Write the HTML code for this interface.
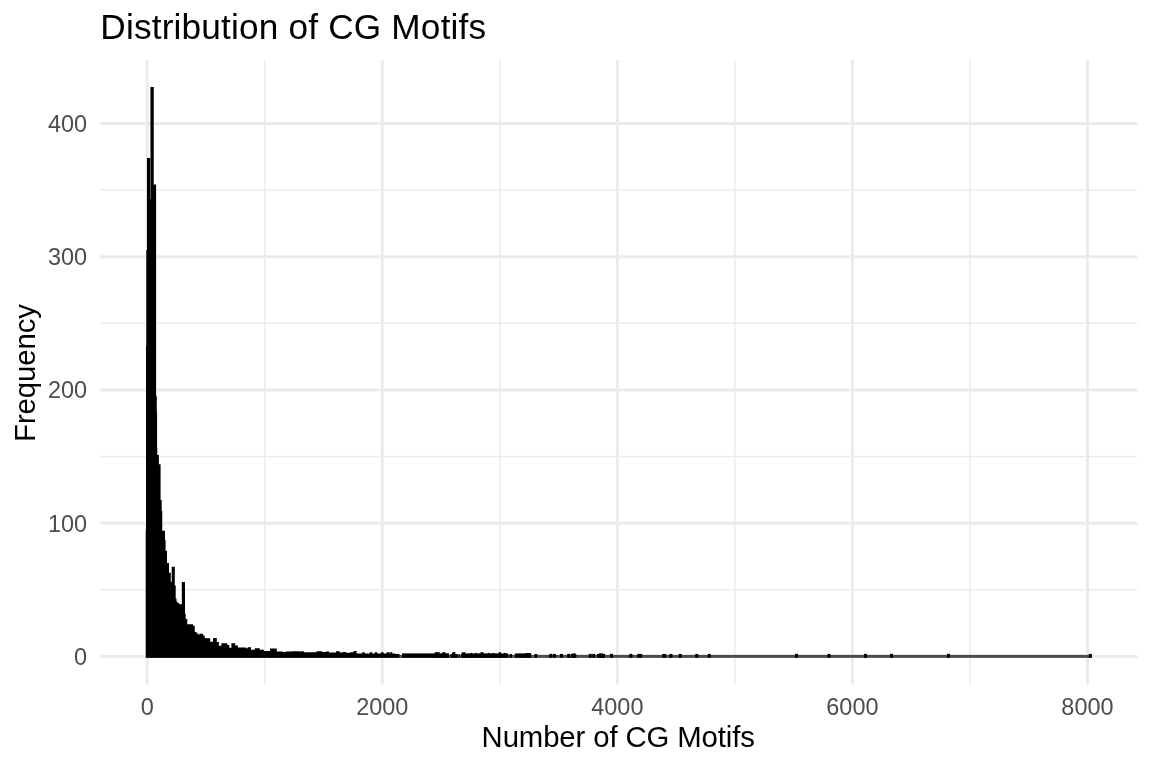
<!DOCTYPE html>
<html lang="en"><head><meta charset="utf-8"><title>Distribution of CG Motifs</title>
<style>html,body{margin:0;padding:0;background:#fff;}body{width:1152px;height:768px;overflow:hidden;font-family:"Liberation Sans",sans-serif;}svg{display:block;}</style>
</head><body>
<svg width="1152" height="768" viewBox="0 0 1152 768">
<rect width="1152" height="768" fill="#ffffff"/>
<g stroke="#ebebeb" fill="none"><line x1="100.3" x2="1137.3" y1="589.83" y2="589.83" stroke-width="1.42"/><line x1="100.3" x2="1137.3" y1="456.58" y2="456.58" stroke-width="1.42"/><line x1="100.3" x2="1137.3" y1="323.33" y2="323.33" stroke-width="1.42"/><line x1="100.3" x2="1137.3" y1="190.08" y2="190.08" stroke-width="1.42"/><line y1="60.0" y2="684.8" x1="264.79" x2="264.79" stroke-width="1.42"/><line y1="60.0" y2="684.8" x1="499.84" x2="499.84" stroke-width="1.42"/><line y1="60.0" y2="684.8" x1="734.88" x2="734.88" stroke-width="1.42"/><line y1="60.0" y2="684.8" x1="969.93" x2="969.93" stroke-width="1.42"/><line x1="100.3" x2="1137.3" y1="656.45" y2="656.45" stroke-width="2.85"/><line x1="100.3" x2="1137.3" y1="523.20" y2="523.20" stroke-width="2.85"/><line x1="100.3" x2="1137.3" y1="389.95" y2="389.95" stroke-width="2.85"/><line x1="100.3" x2="1137.3" y1="256.70" y2="256.70" stroke-width="2.85"/><line x1="100.3" x2="1137.3" y1="123.45" y2="123.45" stroke-width="2.85"/><line y1="60.0" y2="684.8" x1="147.27" x2="147.27" stroke-width="2.85"/><line y1="60.0" y2="684.8" x1="382.32" x2="382.32" stroke-width="2.85"/><line y1="60.0" y2="684.8" x1="617.36" x2="617.36" stroke-width="2.85"/><line y1="60.0" y2="684.8" x1="852.41" x2="852.41" stroke-width="2.85"/><line y1="60.0" y2="684.8" x1="1087.45" x2="1087.45" stroke-width="2.85"/></g>
<rect x="146" y="654.85" width="944.3" height="3.0" fill="#4b4b4b"/>
<path d="M145.7,657.8V530H146.0V346H146.3V250H146.95V157.9V157.9H150.1V199H150.45V87.0H153.75V184.5H156.1V395.8H156.8V412.5H157.1V448H157.3V455H158.9V464.2H160.6V500H161.7V511H162.25V530.8H165V540H165.6V550.8H167V563H169V572.7H170.8V581.8H171.7V566.8H174.8V585.6H175.7V598.5H176.5V601.5H177.5V603.0H179.3V604.3H181.8V582H185V613.7H185.7V619H187.25V624.2H193.1V625.8H194.75V632H196.6V633.6H198.5V635H199.3V633.75H203.1V635.5H204.7V638H206.4V638.2H210.2V641.7H213.1V637.9H216.8V642H218.9V645.7H221.4V643.2H227.25V645H229.3V647.7H231.4V643.2H235.2V645.5H238V647.4H246V648.3H247.7V647.3H251V649.8H254.75V648.3H259.75V649.8H263.9V651.1H270V648.4H276.8V651.6H283V651.9H286V651.5H291.5V651.25H299V651.6H301.5V651.25H303.4V651.6H304V652.2H316.5V651.25H322V652H326V651.4H329V652.6H336V651.25H339.75V652.6H343V652.0H346V652.7H350V652.2H353.5V651.1H356.6V653.4H362.2V652.2H364.8V653.4H369.7V652.2H372.3V653.4H374.7V652.2H377.3V653.4H380.95V652.2H383.55V653.4H386.59999999999997V652.2H389.2V653.4H389.7V652.2H392.3V653.4H395.4V654.1H399.4V657.8Z" fill="#000"/>
<g fill="#000"><rect x="402.00" y="653.4" width="47.00" height="4.40"/><rect x="434.75" y="652.2" width="5.00" height="5.60"/><rect x="442.25" y="652.2" width="3.15" height="5.60"/><rect x="445.40" y="653.7" width="3.60" height="4.10"/><rect x="450.40" y="654.0" width="7.20" height="3.80"/><rect x="452.20" y="652.2" width="3.20" height="5.60"/><rect x="458.50" y="654.0" width="1.25" height="3.80"/><rect x="461.00" y="653.4" width="47.30" height="4.40"/><rect x="462.20" y="652.2" width="3.20" height="5.60"/><rect x="480.50" y="652.2" width="3.10" height="5.60"/><rect x="498.60" y="652.2" width="2.40" height="5.60"/><rect x="470.50" y="652.9" width="1.80" height="4.90"/><rect x="475.20" y="652.9" width="1.80" height="4.90"/><rect x="488.00" y="652.9" width="1.80" height="4.90"/><rect x="492.50" y="652.9" width="1.80" height="4.90"/><rect x="504.00" y="652.9" width="1.80" height="4.90"/><rect x="509.50" y="654.0" width="2.50" height="3.80"/><rect x="514.90" y="653.4" width="16.20" height="4.40"/><rect x="525.50" y="653.0" width="5.00" height="4.80"/><rect x="534.50" y="654.0" width="2.70" height="3.80"/><rect x="549.20" y="653.9" width="3.10" height="3.90"/><rect x="552.90" y="653.9" width="3.00" height="3.90"/><rect x="560.00" y="653.9" width="3.00" height="3.90"/><rect x="567.20" y="653.9" width="2.90" height="3.90"/><rect x="570.80" y="653.9" width="5.50" height="3.90"/><rect x="588.70" y="653.9" width="3.00" height="3.90"/><rect x="592.20" y="653.9" width="3.00" height="3.90"/><rect x="597.00" y="653.9" width="8.00" height="3.90"/><rect x="610.00" y="653.9" width="3.00" height="3.90"/><rect x="629.40" y="653.9" width="3.00" height="3.90"/><rect x="637.20" y="653.9" width="5.00" height="3.90"/><rect x="662.30" y="653.9" width="3.90" height="3.90"/><rect x="669.40" y="653.9" width="3.00" height="3.90"/><rect x="678.70" y="653.9" width="3.00" height="3.90"/><rect x="695.30" y="653.9" width="3.00" height="3.90"/><rect x="707.80" y="653.9" width="3.00" height="3.90"/><rect x="795.00" y="653.9" width="3.00" height="3.90"/><rect x="827.50" y="653.9" width="3.00" height="3.90"/><rect x="864.00" y="653.9" width="3.00" height="3.90"/><rect x="890.00" y="653.9" width="3.00" height="3.90"/><rect x="947.00" y="653.9" width="3.00" height="3.90"/><rect x="1088.80" y="653.9" width="3.10" height="3.90"/><rect x="572.50" y="653.4" width="3.00" height="4.40"/><rect x="599.00" y="653.4" width="4.00" height="4.40"/></g>
<text x="100.3" y="39" font-family="Liberation Sans, sans-serif" font-size="35.2" fill="#000" letter-spacing="0.19">Distribution of CG Motifs</text>
<g font-family="Liberation Sans, sans-serif" font-size="23.47" fill="#4d4d4d" text-anchor="end">
<text x="87.1" y="664.75">0</text>
<text x="87.1" y="531.50">100</text>
<text x="87.1" y="398.25">200</text>
<text x="87.1" y="265.00">300</text>
<text x="87.1" y="131.75">400</text>
</g>
<g font-family="Liberation Sans, sans-serif" font-size="23.47" fill="#4d4d4d" text-anchor="middle">
<text x="147.27" y="715">0</text>
<text x="382.32" y="715">2000</text>
<text x="617.36" y="715">4000</text>
<text x="852.41" y="715">6000</text>
<text x="1087.45" y="715">8000</text>
</g>
<text x="618.2" y="746.9" font-family="Liberation Sans, sans-serif" font-size="29.33" fill="#000" text-anchor="middle" letter-spacing="-0.12">Number of CG Motifs</text>
<text transform="translate(35,373.0) rotate(-90)" font-family="Liberation Sans, sans-serif" font-size="29.33" fill="#000" text-anchor="middle" letter-spacing="-0.07">Frequency</text>
</svg>
</body></html>
